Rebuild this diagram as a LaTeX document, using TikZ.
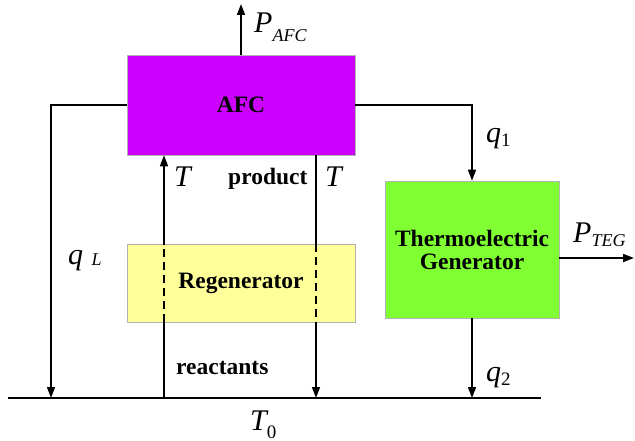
\documentclass[tikz,border=0pt]{standalone}
\usepackage{fontspec}
\setmainfont{Liberation Serif}
\usetikzlibrary{arrows.meta}
\definecolor{afccol}{RGB}{204,0,255}
\definecolor{tegcol}{RGB}{128,255,51}
\definecolor{regcol}{RGB}{255,255,153}
\newcommand\mysubi[2]{\raisebox{-#1}{\fontsize{18}{18}\selectfont\itshape #2}}
\newcommand\mysubu[2]{\raisebox{-#1}{\fontsize{19}{19}\selectfont\upshape #2}}
\begin{document}
\begin{tikzpicture}[x=1pt,y=-1pt,
  box/.style={draw=black!30, line width=0.6pt, inner sep=0pt},
  conn/.style={line width=1.6pt},
  arr/.style={conn,-{Triangle[length=11pt,width=8pt]}},
  dsh/.style={conn,dash pattern=on 8pt off 5pt},
  bt/.style={font=\fontsize{23.5}{26}\selectfont\bfseries},
  it/.style={font=\fontsize{30}{30}\selectfont\itshape, inner sep=0pt}
]
\useasboundingbox (0,0) rectangle (635,441);

\node[box, fill=afccol, minimum width=228pt, minimum height=100pt, bt] (afc) at (241,105) {AFC};
\node[box, fill=regcol, minimum width=228pt, minimum height=78pt, bt] (reg) at (241,283) {Regenerator};
\node[box, fill=tegcol, minimum width=174pt, minimum height=137pt, bt, align=center] (teg) at (472,249.5) {Thermoelectric\\[-3pt]Generator};

\coordinate (top) at (241,4);
\coordinate (gl) at (8,398);
\coordinate (gr) at (541,398);
\coordinate (qlx) at (51,398);
\coordinate (pteg) at (634,258);
\coordinate (rx) at (164,398);
\coordinate (px) at (316,398);

\draw[conn] (gl) -- (gr);
\draw[arr] (afc.north) -- (top);
\draw[arr] (afc.west) -| (qlx);
\draw[arr] (afc.east) -| (teg.north);
\draw[arr] (teg.south) -- (teg.south |- gl);
\draw[arr] (pteg -| teg.east) -- (pteg);

\draw[conn] (rx) -- (rx |- reg.south);
\draw[dsh] (rx |- reg.south) -- (rx |- reg.north);
\draw[arr] (rx |- reg.north) -- (rx |- afc.south);

\draw[conn] (px |- afc.south) -- (px |- reg.north);
\draw[dsh] (px |- reg.north) -- (px |- reg.south);
\draw[arr] (px |- reg.south) -- (px);

\node[it, anchor=base west] (lpafc) at (254,33) {P\mysubi{9pt}{AFC}};
\node[it, anchor=base west] (lpteg) at (573,242) {P\mysubi{5pt}{TEG}};
\node[it, anchor=base west] (lt1) at (174,187) {T};
\node[it, anchor=base west] (lt2) at (325,187) {T};
\node[bt, anchor=base west, inner sep=0pt] (lprod) at (228,185) {product};
\node[bt, anchor=base west, inner sep=0pt] (lreac) at (176,374) {reactants};
\node[it, anchor=base west] (lql) at (68,264) {q\;\mysubi{1pt}{L}};
\node[it, anchor=base west] (lq1) at (486,143) {q\mysubu{4pt}{1}};
\node[it, anchor=base west] (lq2) at (486,381) {q\mysubu{4pt}{2}};
\node[it, anchor=base west] (lt0) at (250,430) {T\mysubu{8pt}{0}};
\end{tikzpicture}
\end{document}
